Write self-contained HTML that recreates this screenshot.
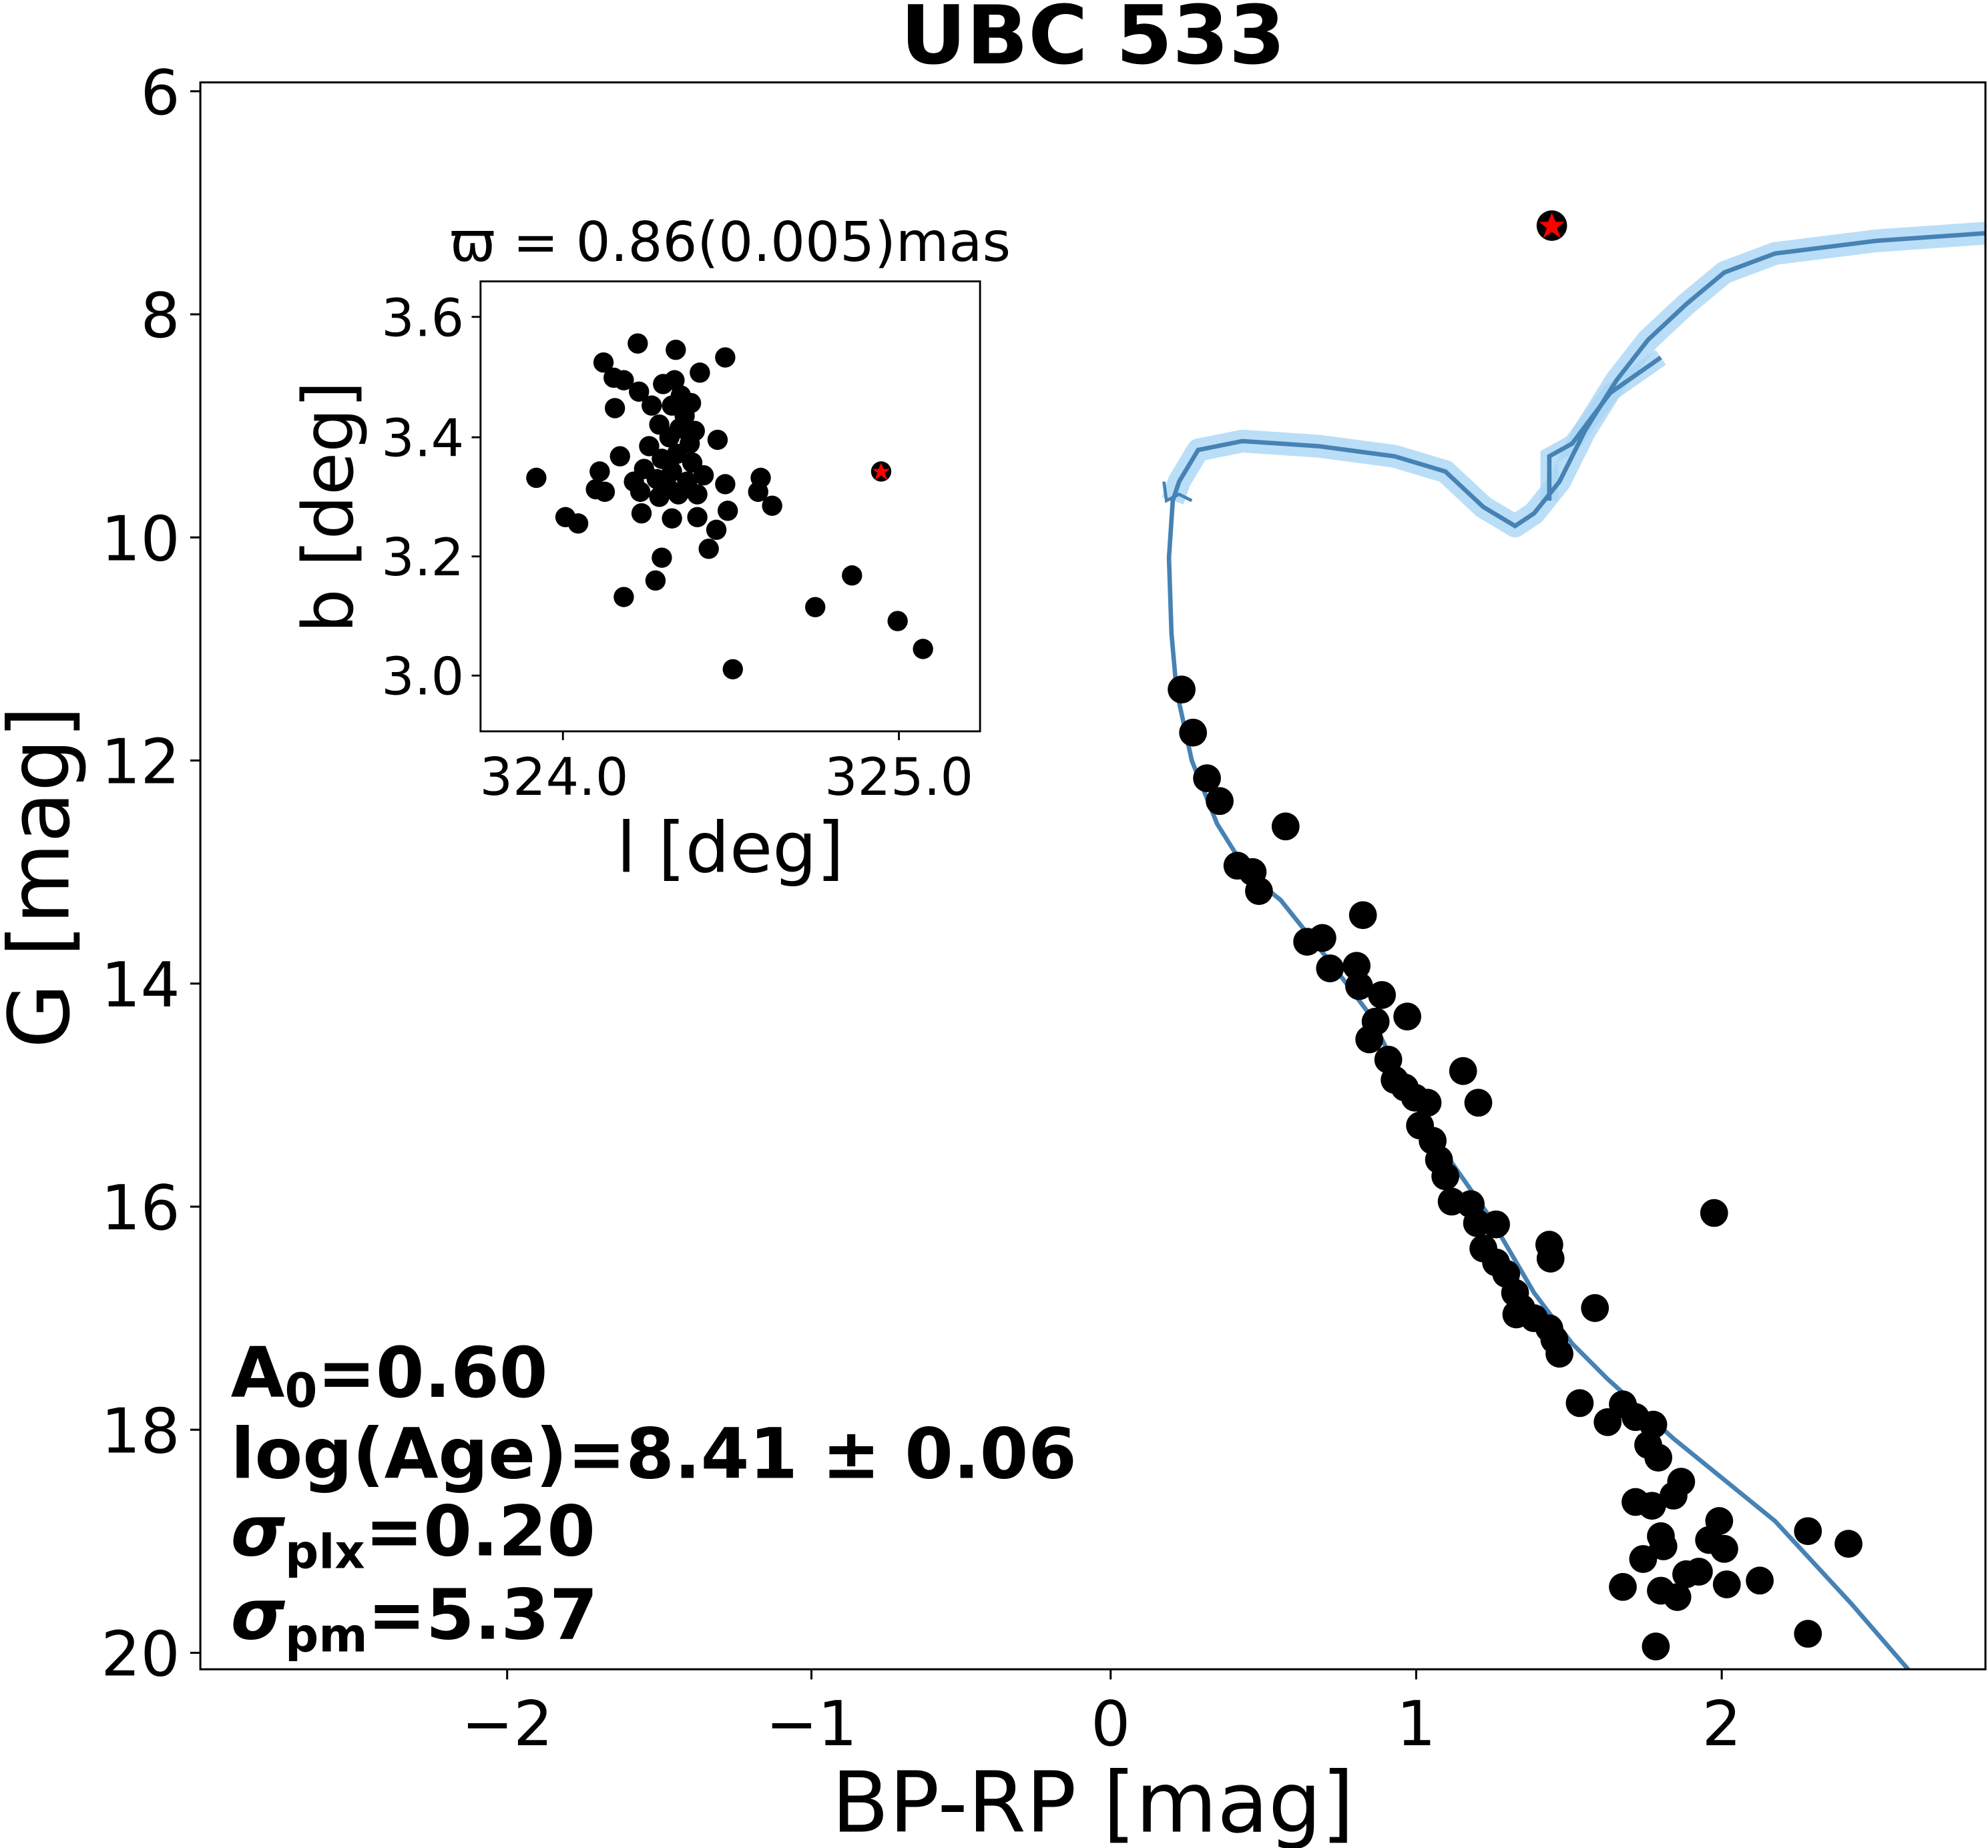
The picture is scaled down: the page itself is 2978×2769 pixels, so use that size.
<!DOCTYPE html>
<html><head><meta charset="utf-8"><style>html,body{margin:0;padding:0;background:#fff}svg{display:block}text{font-family:"DejaVu Sans","Liberation Sans",sans-serif;fill:#000}</style></head>
<body>
<svg width="2978" height="2769" viewBox="0 0 1568 1458" xmlns="http://www.w3.org/2000/svg">
<rect width="1568" height="1458" fill="#fff"/>
<text x="862" y="50" font-size="64" font-weight="bold" text-anchor="middle">UBC 533</text>
<defs><clipPath id="c"><rect x="158" y="65" width="1408" height="1252"/></clipPath></defs>
<g clip-path="url(#c)">
<path d="M1566,184 L1480,190 L1400,200 L1360,215 L1330,240 L1300,268 L1275,300 L1250,340 L1230,380 L1210,405 L1195,415 L1170,400 L1140,372 L1100,360 L1040,352 L980,348 L945,355 L930,380 L925,395" fill="none" stroke="#a9d6f5" stroke-width="18" stroke-linejoin="round" opacity="0.8"/>
<path d="M1222,395 L1222,360 L1240,350 L1270,310 L1310,282" fill="none" stroke="#a9d6f5" stroke-width="14" opacity="0.8"/>
<path d="M1566,184 L1480,190 L1400,200 L1360,215 L1330,240 L1300,268 L1275,300 L1250,340 L1230,380 L1210,405 L1195,415 L1170,400 L1140,372 L1100,360 L1040,352 L980,348 L945,355 L930,380 L925,395 L922,440 L924,500 L928,545 L940,600 L960,650 L985,690 L1010,710 L1050,760 L1080,800 L1110,860 L1140,910 L1175,960 L1210,1020 L1240,1060 L1268,1088 L1320,1135 L1400,1200 L1460,1265 L1505,1317" fill="none" stroke="#4682b4" stroke-width="3.5"/>
<path d="M1222,395 L1222,360 L1240,350 L1270,310 L1310,282" fill="none" stroke="#4682b4" stroke-width="3.5"/>
<path d="M918,380 L920,395 L930,390 L940,395" fill="none" stroke="#4682b4" stroke-width="2.5"/>
<g fill="#000">
<circle cx="932" cy="544" r="11"/><circle cx="941" cy="578" r="11"/><circle cx="952" cy="614" r="11"/><circle cx="962" cy="632" r="11"/><circle cx="1014" cy="652" r="11"/><circle cx="976" cy="683" r="11"/><circle cx="988" cy="688" r="11"/><circle cx="993" cy="703" r="11"/><circle cx="1031" cy="743" r="11"/><circle cx="1043" cy="740" r="11"/><circle cx="1049" cy="764" r="11"/><circle cx="1075" cy="722" r="11"/><circle cx="1070" cy="762" r="11"/><circle cx="1072" cy="778" r="11"/><circle cx="1090" cy="785" r="11"/><circle cx="1085" cy="806" r="11"/><circle cx="1110" cy="802" r="11"/><circle cx="1080" cy="820" r="11"/><circle cx="1095" cy="836" r="11"/><circle cx="1100" cy="852" r="11"/><circle cx="1108" cy="858" r="11"/><circle cx="1116" cy="866" r="11"/><circle cx="1126" cy="870" r="11"/><circle cx="1154" cy="845" r="11"/><circle cx="1166" cy="870" r="11"/><circle cx="1120" cy="888" r="11"/><circle cx="1130" cy="900" r="11"/><circle cx="1135" cy="915" r="11"/><circle cx="1140" cy="928" r="11"/><circle cx="1145" cy="948" r="11"/><circle cx="1160" cy="950" r="11"/><circle cx="1165" cy="965" r="11"/><circle cx="1180" cy="966" r="11"/><circle cx="1170" cy="985" r="11"/><circle cx="1180" cy="996" r="11"/><circle cx="1188" cy="1005" r="11"/><circle cx="1195" cy="1020" r="11"/><circle cx="1200" cy="1032" r="11"/><circle cx="1196" cy="1037" r="11"/><circle cx="1210" cy="1040" r="11"/><circle cx="1222" cy="1048" r="11"/><circle cx="1226" cy="1057" r="11"/><circle cx="1230" cy="1068" r="11"/><circle cx="1222" cy="982" r="11"/><circle cx="1223" cy="993" r="11"/><circle cx="1258" cy="1032" r="11"/><circle cx="1352" cy="957" r="11"/><circle cx="1246" cy="1107" r="11"/><circle cx="1268" cy="1122" r="11"/><circle cx="1280" cy="1108" r="11"/><circle cx="1290" cy="1118" r="11"/><circle cx="1300" cy="1140" r="11"/><circle cx="1304" cy="1124" r="11"/><circle cx="1308" cy="1150" r="11"/><circle cx="1290" cy="1185" r="11"/><circle cx="1303" cy="1188" r="11"/><circle cx="1320" cy="1180" r="11"/><circle cx="1326" cy="1169" r="11"/><circle cx="1296" cy="1230" r="11"/><circle cx="1312" cy="1220" r="11"/><circle cx="1280" cy="1252" r="11"/><circle cx="1310" cy="1255" r="11"/><circle cx="1323" cy="1260" r="11"/><circle cx="1330" cy="1242" r="11"/><circle cx="1340" cy="1240" r="11"/><circle cx="1348" cy="1215" r="11"/><circle cx="1356" cy="1200" r="11"/><circle cx="1360" cy="1222" r="11"/><circle cx="1362" cy="1250" r="11"/><circle cx="1388" cy="1247" r="11"/><circle cx="1426" cy="1208" r="11"/><circle cx="1458" cy="1218" r="11"/><circle cx="1426" cy="1289" r="11"/><circle cx="1306" cy="1299" r="11"/><circle cx="1310" cy="1212" r="11"/>
<circle cx="1224" cy="178" r="12"/>
</g>
<polygon points="1224,168 1227,175 1234,175 1228,180 1231,188 1224,183 1217,188 1220,180 1214,175 1221,175" fill="#f00"/>
</g>
<rect x="158" y="65" width="1408" height="1252" fill="none" stroke="#000" stroke-width="1.6"/>
<g stroke="#000" stroke-width="1.6">
<line x1="400" y1="1317" x2="400" y2="1325"/><line x1="640" y1="1317" x2="640" y2="1325"/><line x1="876" y1="1317" x2="876" y2="1325"/><line x1="1117" y1="1317" x2="1117" y2="1325"/><line x1="1358" y1="1317" x2="1358" y2="1325"/>
<line x1="150" y1="72" x2="158" y2="72"/><line x1="150" y1="248" x2="158" y2="248"/><line x1="150" y1="424" x2="158" y2="424"/><line x1="150" y1="600" x2="158" y2="600"/><line x1="150" y1="776" x2="158" y2="776"/><line x1="150" y1="952" x2="158" y2="952"/><line x1="150" y1="1128" x2="158" y2="1128"/><line x1="150" y1="1304" x2="158" y2="1304"/>
</g>
<g font-size="49" text-anchor="middle">
<text x="400" y="1377">−2</text><text x="640" y="1377">−1</text><text x="876" y="1377">0</text><text x="1117" y="1377">1</text><text x="1358" y="1377">2</text>
</g>
<g font-size="49" text-anchor="end">
<text x="142" y="90">6</text><text x="142" y="266">8</text><text x="142" y="442">10</text><text x="142" y="618">12</text><text x="142" y="794">14</text><text x="142" y="970">16</text><text x="142" y="1146">18</text><text x="142" y="1322">20</text>
</g>
<text x="862" y="1445" font-size="66" text-anchor="middle">BP-RP [mag]</text>
<text transform="translate(54,692) rotate(-90)" font-size="66" text-anchor="middle">G [mag]</text>
<g font-size="55" font-weight="bold">
<text x="182" y="1102">A<tspan font-size="37" dy="8">0</tspan><tspan dy="-8">=0.60</tspan></text>
<text x="182" y="1166">log(Age)=8.41 ± 0.06</text>
<text x="182" y="1227"><tspan font-style="italic">σ</tspan><tspan font-size="37" dy="10">plx</tspan><tspan dy="-10">=0.20</tspan></text>
<text x="182" y="1293"><tspan font-style="italic">σ</tspan><tspan font-size="37" dy="10">pm</tspan><tspan dy="-10">=5.37</tspan></text>
</g>
<!-- inset -->
<rect x="379" y="222" width="394" height="355" fill="#fff" stroke="#000" stroke-width="1.5"/>
<g fill="#000">
<circle cx="423" cy="377" r="8"/><circle cx="476" cy="286" r="8"/><circle cx="503" cy="271" r="8"/><circle cx="533" cy="276" r="8"/><circle cx="572" cy="282" r="8"/><circle cx="484" cy="298" r="8"/><circle cx="492" cy="300" r="8"/><circle cx="504" cy="309" r="8"/><circle cx="485" cy="322" r="8"/><circle cx="523" cy="303" r="8"/><circle cx="530" cy="320" r="8"/><circle cx="537" cy="312" r="8"/><circle cx="545" cy="318" r="8"/><circle cx="552" cy="294" r="8"/><circle cx="566" cy="347" r="8"/><circle cx="489" cy="360" r="8"/><circle cx="470" cy="386" r="8"/><circle cx="477" cy="388" r="8"/><circle cx="473" cy="372" r="8"/><circle cx="446" cy="408" r="8"/><circle cx="456" cy="413" r="8"/><circle cx="492" cy="471" r="8"/><circle cx="517" cy="458" r="8"/><circle cx="522" cy="440" r="8"/><circle cx="559" cy="433" r="8"/><circle cx="565" cy="418" r="8"/><circle cx="574" cy="403" r="8"/><circle cx="550" cy="408" r="8"/><circle cx="600" cy="377" r="8"/><circle cx="598" cy="388" r="8"/><circle cx="609" cy="399" r="8"/><circle cx="572" cy="382" r="8"/><circle cx="506" cy="405" r="8"/><circle cx="530" cy="409" r="8"/><circle cx="643" cy="479" r="8"/><circle cx="672" cy="454" r="8"/><circle cx="708" cy="490" r="8"/><circle cx="728" cy="512" r="8"/><circle cx="578" cy="528" r="8"/>
<circle cx="520" cy="335" r="8"/><circle cx="528" cy="345" r="8"/><circle cx="536" cy="338" r="8"/><circle cx="544" cy="350" r="8"/><circle cx="512" cy="352" r="8"/><circle cx="522" cy="362" r="8"/><circle cx="534" cy="358" r="8"/><circle cx="546" cy="365" r="8"/><circle cx="508" cy="370" r="8"/><circle cx="518" cy="378" r="8"/><circle cx="530" cy="372" r="8"/><circle cx="542" cy="380" r="8"/><circle cx="505" cy="388" r="8"/><circle cx="520" cy="392" r="8"/><circle cx="535" cy="390" r="8"/><circle cx="550" cy="390" r="8"/><circle cx="540" cy="328" r="8"/><circle cx="532" cy="300" r="8"/><circle cx="500" cy="380" r="8"/><circle cx="555" cy="375" r="8"/><circle cx="527" cy="385" r="8"/><circle cx="514" cy="320" r="8"/><circle cx="548" cy="340" r="8"/>
<circle cx="695" cy="372" r="8"/>
</g>
<polygon points="695,365 697,370 702,370 698,373 700,379 695,375 690,379 692,373 688,370 693,370" fill="#f00"/>
<g stroke="#000" stroke-width="1.5">
<line x1="444" y1="577" x2="444" y2="584"/><line x1="709" y1="577" x2="709" y2="584"/>
<line x1="372" y1="250" x2="379" y2="250"/><line x1="372" y1="345" x2="379" y2="345"/><line x1="372" y1="439" x2="379" y2="439"/><line x1="372" y1="533" x2="379" y2="533"/>
</g>
<g font-size="41" text-anchor="middle"><text x="437" y="627">324.0</text><text x="709" y="627">325.0</text></g>
<g font-size="41" text-anchor="end"><text x="366" y="265">3.6</text><text x="366" y="360">3.4</text><text x="366" y="454">3.2</text><text x="366" y="548">3.0</text></g>
<text x="576" y="688" font-size="55" text-anchor="middle">l [deg]</text>
<text transform="translate(278,400) rotate(-90)" font-size="55" text-anchor="middle">b [deg]</text>
<text x="576" y="206" font-size="43" text-anchor="middle">ϖ = 0.86(0.005)mas</text>
</svg>
</body></html>
